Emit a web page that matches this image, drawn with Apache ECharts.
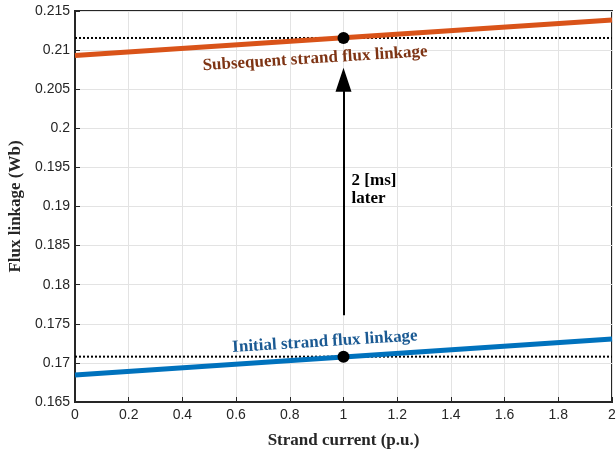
<!DOCTYPE html>
<html><head><meta charset="utf-8">
<script src="https://cdn.jsdelivr.net/npm/echarts@6/dist/echarts.min.js"></script>
<style>html,body{margin:0;padding:0;background:#fff}#c{width:616px;height:449px}</style>
</head><body><div id="c"></div>
<script>
const xTicks = [0, 0.2, 0.4, 0.6, 0.8, 1, 1.2, 1.4, 1.6, 1.8, 2];
const subsequentLine = [[0, 0.2093], [2, 0.21385]];
const initialLine = [[0, 0.16845], [2, 0.17306]];
const operatingPoints = [[1, 0.21155], [1, 0.1708]];
const dottedSubsequent = [[0, 0.21155], [2, 0.21155]];
const dottedInitial = [[0, 0.1708], [2, 0.1708]];
const arrowFrom = [1, 0.1761];
const arrowTo = [1, 0.2062];
const labelSubsequent = [0.894, 0.2089];
const labelInitial = [0.931, 0.1727];
const labelDelay = [1.03, 0.1922];

const chart = echarts.init(document.getElementById('c'));
const serif = '"Liberation Serif","DejaVu Serif",serif';
const sans = '"Liberation Sans",Arial,sans-serif';
const fmt = v => parseFloat(v.toFixed(3)).toString();
chart.setOption({
  animation: false,
  grid: {left: 75, right: 4, top: 11, bottom: 47, outerBoundsMode: 'none', containLabel: false, show: true, borderColor: '#262626', borderWidth: 2, backgroundColor: 'transparent'},
  xAxis: {
    type: 'value', min: 0, max: 2, interval: 0.2,
    name: 'Strand current (p.u.)', nameLocation: 'middle', nameGap: 30,
    nameTextStyle: {fontFamily: serif, fontWeight: 'bold', fontSize: 17, color: '#262626'},
    axisLine: {show: true, lineStyle: {color: '#262626', width: 2}},
    axisTick: {show: true, inside: true, length: 5, lineStyle: {color: '#262626'}},
    axisLabel: {fontFamily: sans, fontSize: 14, color: '#262626', margin: 6, formatter: fmt},
    splitLine: {show: true, lineStyle: {color: '#e3e3e3', width: 1}}
  },
  yAxis: {
    type: 'value', min: 0.165, max: 0.215, interval: 0.005,
    name: 'Flux linkage (Wb)', nameLocation: 'middle', nameGap: 49,
    nameTextStyle: {fontFamily: serif, fontWeight: 'bold', fontSize: 17, color: '#262626'},
    axisLine: {show: true, lineStyle: {color: '#262626', width: 2}},
    axisTick: {show: true, inside: true, length: 5, lineStyle: {color: '#262626'}},
    axisLabel: {fontFamily: sans, fontSize: 14, color: '#262626', margin: 5, formatter: fmt},
    splitLine: {show: true, lineStyle: {color: '#e3e3e3', width: 1}}
  },
  series: [
    {type: 'line', data: dottedSubsequent, symbol: 'none', lineStyle: {color: '#000', width: 2, type: [2, 2]}, z: 3},
    {type: 'line', data: dottedInitial, symbol: 'none', lineStyle: {color: '#000', width: 2, type: [2, 2]}, z: 3},
    {type: 'line', data: subsequentLine, symbol: 'none', lineStyle: {color: '#D95319', width: 5}, z: 4},
    {type: 'line', data: initialLine, symbol: 'none', lineStyle: {color: '#0072BD', width: 5}, z: 4},
    {type: 'scatter', data: operatingPoints, symbol: 'circle', symbolSize: 12, itemStyle: {color: '#000', opacity: 1}, z: 6},
    {type: 'line', data: [], symbol: 'none',
      markLine: {silent: true, symbol: ['none', 'triangle'], symbolSize: [16, 24], label: {show: false},
        lineStyle: {color: '#000', width: 2, type: 'solid'},
        data: [[{coord: arrowFrom}, {coord: arrowTo}]]}, z: 5},
    {type: 'scatter', symbolSize: 0, z: 7, itemStyle: {opacity: 1},
      data: [
        {value: labelSubsequent, label: {show: true, formatter: 'Subsequent strand flux linkage', color: '#7E3414', rotate: 3.6}},
        {value: labelInitial, label: {show: true, formatter: 'Initial strand flux linkage', color: '#1B5A93', rotate: 3.6}},
        {value: labelDelay, label: {show: true, formatter: '2 [ms]\nlater', color: '#000', align: 'left', lineHeight: 18}}
      ],
      label: {position: 'inside', fontFamily: serif, fontWeight: 'bold', fontSize: 17}
    }
  ]
});
</script></body></html>
